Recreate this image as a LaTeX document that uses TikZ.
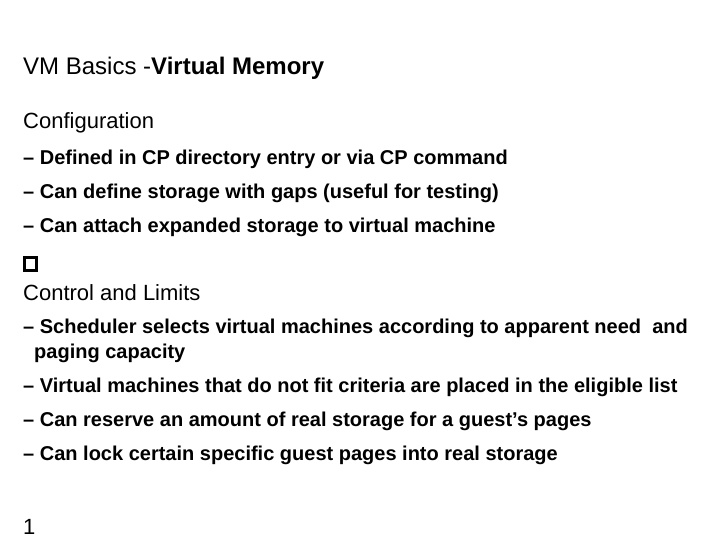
\documentclass[tikz,border=0pt]{standalone}
\usepackage{fontspec}
\setmainfont{Liberation Sans}
\begin{document}
\begin{tikzpicture}[x=1pt,y=1pt,
  txt/.style={anchor=base west,inner sep=0pt,font=\fontsize{22}{26}\selectfont},
  btxt/.style={txt,font=\fontsize{20}{24}\selectfont\bfseries}]
\useasboundingbox (0,0) rectangle (720,540);
\node[txt,font=\fontsize{24}{28}\selectfont] (t) at (23,465) {VM Basics -\textbf{Virtual Memory}};
\node[txt] (c) at (23,411) {Configuration};
\node[btxt] (c1) at (23,375) {– Defined in CP directory entry or via CP command};
\node[btxt] (c2) at (23,341) {– Can define storage with gaps (useful for testing)};
\node[btxt] (c3) at (23,307) {– Can attach expanded storage to virtual machine};
\draw[line width=3pt] (24.5,269.5) rectangle (36.5,282.5);
\node[txt] (l) at (23,239) {Control and Limits};
\node[btxt] (l1) at (23,206) {– Scheduler selects virtual machines according to apparent need\ \ and};
\node[btxt] (l1b) at (34,181) {paging capacity};
\node[btxt] (l2) at (23,147) {– Virtual machines that do not fit criteria are placed in the eligible list};
\node[btxt] (l3) at (23,113) {– Can reserve an amount of real storage for a guest’s pages};
\node[btxt] (l4) at (23,79) {– Can lock certain specific guest pages into real storage};
\node[txt] (n) at (23,5) {1};
\end{tikzpicture}
\end{document}
